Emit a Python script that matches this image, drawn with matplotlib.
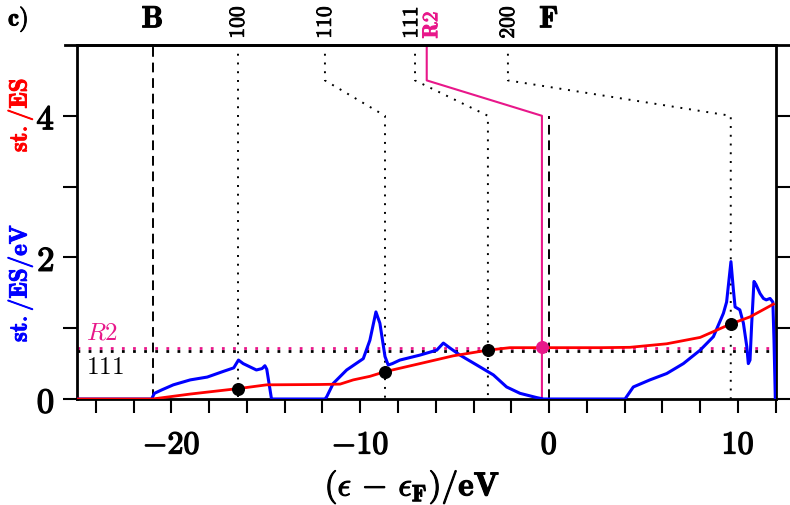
import numpy as np
import matplotlib
matplotlib.use("Agg")
import matplotlib.pyplot as plt
from matplotlib.lines import Line2D
from matplotlib import transforms
import matplotlib.patheffects as pe

plt.rcParams['mathtext.fontset'] = 'cm'
plt.rcParams['font.family'] = ['DejaVu Serif']

# density of states (blue), st./ES/eV
dosE = [-25, -21.05, -20.9, -20.5, -19.9, -19.0, -18.1, -17.25, -16.7, -16.45, -16.2, -15.5,
        -15.2, -15.05, -14.95, -14.7, -11.87, -11.78, -11.43, -10.72, -9.84, -9.49, -9.17,
        -8.96, -8.69, -8.52, -8.3, -7.9, -6.84, -5.95, -5.6, -5.25, -4.72, -3.83, -2.95,
        -2.25, -1.54, -0.66, -0.3, 4.02, 4.46, 5.34, 6.23, 7.11, 8.0, 8.7, 9.23, 9.4, 9.63,
        9.76, 9.85, 10.1, 10.29, 10.47, 10.55, 10.64, 10.73, 10.85, 10.95, 11.17, 11.35,
        11.5, 11.7, 11.85, 11.91, 11.98, 12]
dos = [0, 0, 0.08, 0.13, 0.2, 0.27, 0.31, 0.39, 0.44, 0.55, 0.5, 0.41,
       0.43, 0.47, 0.42, 0, 0, 0.03, 0.22, 0.41, 0.57, 0.83, 1.23,
       1.07, 0.6, 0.48, 0.5, 0.55, 0.62, 0.69, 0.79, 0.72, 0.62, 0.48, 0.34,
       0.17, 0.08, 0.02, 0, 0, 0.17, 0.27, 0.36, 0.5, 0.69, 0.88, 1.21, 1.37, 1.94,
       1.54, 1.3, 1.26, 1.07, 0.74, 0.5, 0.55, 1.07, 1.66, 1.62, 1.49, 1.42,
       1.4, 1.42, 1.37, 0.83, 0, 0]

# integrated states (red), st./ES
cumE = [-25, -21, -19, -16.37, -14.96, -12.13, -11.07, -10.37, -9.49, -8.69, -6.84, -5.07,
        -3.24, -2.07, -1.0, 2.7, 4.28, 6.23, 8.0, 9.62, 10.64, 11.88]
cum = [0, 0, 0.07, 0.15, 0.2, 0.205, 0.21, 0.27, 0.32, 0.386, 0.50, 0.61,
       0.69, 0.725, 0.725, 0.725, 0.73, 0.78, 0.87, 1.06, 1.16, 1.34]

# surface levels: label position on top, energy, filling
surfLabels = ['100', '110', '111', '200']
surfLabelE = [-16.48, -11.87, -7.10, -2.18]
surfE = [-16.48, -8.69, -3.24, 9.62]
surfFill = [0.14, 0.386, 0.69, 1.06]

r2LabelE = -6.48
r2E = -0.38
r2Fill = 0.735

level111 = 0.68
levelR2 = 0.725

eB = -21.0
eF = 0.0

pink = '#e8178a'


def heavy(color='black', w=0.9):
    return [pe.withStroke(linewidth=w, foreground=color)]


fig = plt.figure(figsize=(7.9, 5.05), dpi=100)
ax = fig.add_axes([77/790, 1 - 399/505, (775.7 - 77)/790, (399 - 45)/505])

ax.axhline(levelR2, color=pink, lw=2, ls=(0, (1, 3)), zorder=1)
ax.axhline(level111, color='black', lw=2, ls=(0, (1, 3)), zorder=1)

ax.plot([eB, eB], [0, 5], color='black', lw=1.4, ls=(0, (5, 3)), zorder=1)
ax.plot([eF, eF], [0, 4], color='black', lw=1.4, ls=(0, (5, 3)), zorder=1)

for lab, e0, e1 in zip(surfLabels, surfLabelE, surfE):
    ax.plot([e0, e0, e1, e1], [5, 4.5, 4.0, 0], color='black', lw=1.4,
            ls=(0, (1, 3.5)), zorder=1)
ax.plot([r2LabelE, r2LabelE, r2E, r2E], [5, 4.5, 4.0, 0], color=pink, lw=1.5, zorder=2)

ax.plot(dosE, dos, color='blue', lw=2.2, zorder=3)
ax.plot(cumE, cum, color='red', lw=2, zorder=4)
ax.scatter(surfE, surfFill, s=70, color='black', zorder=5)
ax.scatter([r2E], [r2Fill], s=70, color=pink, zorder=5)

ax.set_xlim(-25, 12)
ax.set_ylim(0, 5)
ax.set_xticks(np.arange(-24, 13, 2))
ax.set_xticklabels([r'$\mathbf{%d}$' % t if t % 10 == 0 else '' for t in range(-24, 13, 2)])
ax.set_yticks([0, 1, 2, 3, 4])
ax.set_yticklabels([r'$\mathbf{%d}$' % t if t % 2 == 0 else '' for t in range(5)])
ax.tick_params(axis='x', direction='out', length=10, width=1.5, labelsize=23, pad=12)
ax.tick_params(axis='y', direction='out', length=10, width=1.5, labelsize=25, pad=6,
               right=True)
for lbl in ax.get_xticklabels() + ax.get_yticklabels():
    lbl.set_path_effects(heavy(w=1.0))
for s in ax.spines.values():
    s.set_linewidth(2)

ax.set_xlabel(r'$\mathbf{(}\epsilon\mathbf{\,-\,}\epsilon_{\mathbf{F}}\mathbf{)/eV}$',
              fontsize=24, labelpad=10, path_effects=heavy(w=0.8))
ax.xaxis.set_label_coords(0.48, -0.195)

fig.text(20/790, 1 - 283/505, r'$\mathbf{st./ES/eV}$', color='blue', rotation=90,
         fontsize=18, ha='center', va='center', path_effects=heavy('blue', 0.7))
fig.text(20/790, 1 - 115/505, r'$\mathbf{st./ES}$', color='red', rotation=90,
         fontsize=18, ha='center', va='center', path_effects=heavy('red', 0.7))
fig.text(8/790, 1 - 20/505, r'$\mathbf{c)}$', fontsize=18, ha='left', va='center',
         path_effects=heavy(w=0.7))

# top line extends past the axes
fig.add_artist(Line2D([65/790, 1.0], [1 - 45/505, 1 - 45/505], color='black', lw=2))

top = transforms.blended_transform_factory(ax.transData, ax.transAxes)
ax.text(eB, 1.03, r'$\mathbf{B}$', transform=top, fontsize=22, ha='center', va='bottom',
        path_effects=heavy(w=0.8))
ax.text(eF, 1.03, r'$\mathbf{F}$', transform=top, fontsize=22, ha='center', va='bottom',
        path_effects=heavy(w=0.8))
for lab, e0 in zip(surfLabels, surfLabelE):
    dx = -0.2 if lab == '111' else 0
    ax.text(e0 + dx, 1.018, r'$\mathbf{%s}$' % lab, transform=top, rotation=90, fontsize=15.5,
            ha='center', va='bottom', path_effects=heavy(w=0.6))
ax.text(r2LabelE + 0.24, 1.018, r'$\mathbf{R2}$', transform=top, rotation=90, fontsize=15.5,
        color=pink, ha='center', va='bottom', path_effects=heavy(pink, 0.6))

ax.text(-24.5, levelR2 + 0.05, r'$\mathit{R2}$', color=pink, fontsize=18, ha='left', va='bottom')
ax.text(-24.5, level111 - 0.07, r'$\mathrm{111}$', color='black', fontsize=18, ha='left', va='top')

fig.savefig('out.png', dpi=100)
